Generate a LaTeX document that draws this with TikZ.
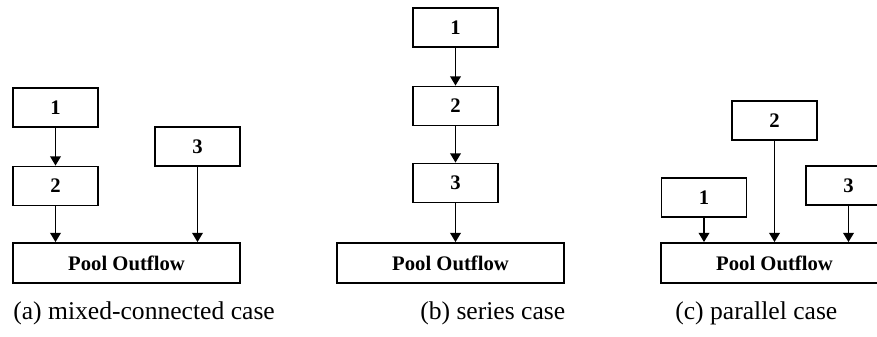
\documentclass[tikz,border=0pt]{standalone}
\usepackage{fontspec}
\setmainfont{Liberation Serif}
\usetikzlibrary{arrows.meta}

\tikzset{
  block/.style={draw, line width=1.35pt, minimum width=63.75pt, minimum height=29.25pt,
    inner sep=0pt, font=\bfseries\fontsize{15.5}{18}\selectfont},
  outflow/.style={block, minimum width=170.25pt, minimum height=30pt},
  flow/.style={-{Triangle[width=8pt,length=7pt]}, line width=1.35pt},
  subcap/.style={anchor=base west, inner sep=0pt, font=\fontsize{19.2}{22}\selectfont}
}

\begin{document}
\begin{tikzpicture}[x=0.75pt, y=-0.75pt]
  \useasboundingbox (0,0) rectangle (877,336);

  % (a) mixed-connected
  \node[block] (a1) at (55.5,107.5) {1};
  \node[block] (a2) at (55.5,186) {2};
  \node[block] (a3) at (197.5,146.5) {3};
  \node[outflow] (apool) at (126.5,263) {Pool Outflow};
  \draw[flow] (a1) -- (a2);
  \draw[flow] (a2) -- (a2 |- apool.north);
  \draw[flow] (a3) -- (a3 |- apool.north);
  \node[subcap] (acap) at (13,319) {(a) mixed-connected case};

  % (b) series
  \node[block] (b1) at (455.5,27.5) {1};
  \node[block] (b2) at (455.5,106) {2};
  \node[block] (b3) at (455.5,183) {3};
  \node[outflow] (bpool) at (450.5,263) {Pool Outflow};
  \draw[flow] (b1) -- (b2);
  \draw[flow] (b2) -- (b3);
  \draw[flow] (b3) -- (b3 |- bpool.north);
  \node[subcap] (bcap) at (420,319) {(b) series case};

  % (c) parallel
  \node[block] (c1) at (704,197.5) {1};
  \node[block] (c2) at (774.5,120.5) {2};
  \node[block] (c3) at (848.5,185.5) {3};
  \node[outflow] (cpool) at (774.5,263) {Pool Outflow};
  \draw[flow] (c1) -- (c1 |- cpool.north);
  \draw[flow] (c2) -- (c2 |- cpool.north);
  \draw[flow] (c3) -- (c3 |- cpool.north);
  \node[subcap] (ccap) at (675,319) {(c) parallel case};
\end{tikzpicture}
\end{document}
